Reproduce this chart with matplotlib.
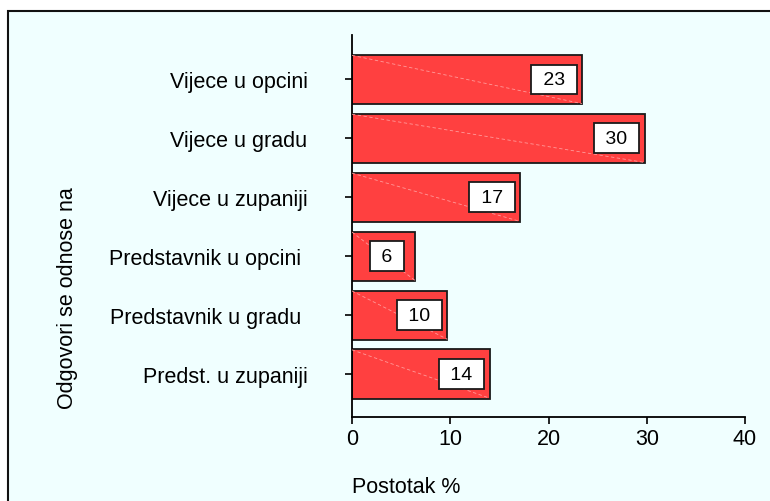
import matplotlib.pyplot as plt
from matplotlib.patches import Rectangle

plt.rcParams['font.family'] = ['Liberation Sans', 'DejaVu Sans']

# datos
categorias = ['Vijece u opcini', 'Vijece u gradu', 'Vijece u zupaniji',
              'Predstavnik u opcini ', 'Predstavnik u gradu ', 'Predst. u zupaniji']
postotak = [23.4, 29.8, 17.1, 6.4, 9.7, 14.0]

fig = plt.figure(figsize=(7.7, 5.02), dpi=100, facecolor='white')

# marco de fondo
marco = Rectangle((8 / 770, -0.1), 1.2, (502 - 12) / 502 + 0.1,
                  transform=fig.transFigure, facecolor='#F0FFFF',
                  edgecolor='#111111', linewidth=1.5, zorder=-10)
fig.patches.append(marco)

ax = fig.add_axes([352 / 770, (502 - 418.3) / 502, 393 / 770, (418.3 - 36) / 502])
ax.patch.set_visible(False)

pos = list(range(len(categorias), 0, -1))
barras = ax.barh(pos, postotak, height=0.835, color='#FF4040',
                 edgecolor='#1a1a1a', linewidth=1.3, zorder=2)

for p, v in zip(pos, postotak):
    # linea diagonal tenue dentro de la barra
    ax.plot([0, v], [p + 0.41, p - 0.41], color='#FF9A9A', lw=0.6,
            ls=(0, (4, 3)), zorder=3)
    ax.annotate(f" {v:.0f} ", xy=(v, p), xytext=(-20.2, 0),
                textcoords='offset points', ha='center', va='center',
                fontsize=14, zorder=4,
                bbox=dict(boxstyle='square,pad=0.33', facecolor='white',
                          edgecolor='#1a1a1a', linewidth=1.3))

ax.set_xlim(0, 40)
ax.set_ylim(0.265, 6.755)
ax.set_xticks([0, 10, 20, 30, 40])
ax.set_yticks(pos)
ax.set_yticklabels(categorias)
ax.tick_params(axis='y', length=5, width=1.2, pad=27, labelsize=15.5)
ax.tick_params(axis='x', length=5, width=1.2, pad=3, labelsize=15.5)
for lado in ['top', 'right']:
    ax.spines[lado].set_visible(False)
for lado in ['left', 'bottom']:
    ax.spines[lado].set_linewidth(1.3)

fig.text(406 / 770, 1 - 488 / 502, 'Postotak %', ha='center', va='center', fontsize=15.5)
fig.text(67 / 770, 1 - 298 / 502, 'Odgovori se odnose na', ha='center', va='center',
         rotation=90, fontsize=15.5)

plt.savefig('out.png', dpi=100)
plt.close()
